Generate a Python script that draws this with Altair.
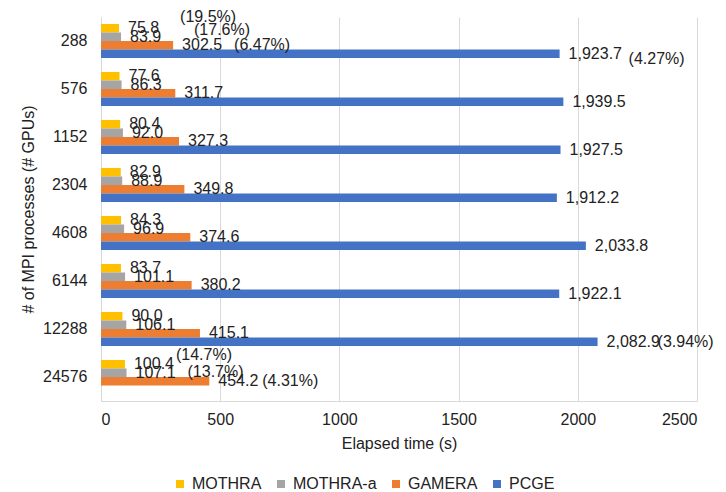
import altair as alt
import pandas as pd

categories = ["288", "576", "1152", "2304", "4608", "6144", "12288", "24576"]
series_names = ["MOTHRA", "MOTHRA-a", "GAMERA", "PCGE"]
mothra = [75.8, 77.6, 80.4, 82.9, 84.3, 83.7, 90.0, 100.4]
mothra_a = [83.9, 86.3, 92.0, 88.9, 96.9, 101.1, 106.1, 107.1]
gamera = [302.5, 311.7, 327.3, 349.8, 374.6, 380.2, 415.1, 454.2]
pcge = [1923.7, 1939.5, 1927.5, 1912.2, 2033.8, 1922.1, 2082.9, None]
colors = ["#FFC000", "#A5A5A5", "#ED7D31", "#4472C4"]

# percentage annotations: (category, series, text)
pct_cats = ["288", "288", "288", "288", "12288", "24576", "24576", "24576"]
pct_series = ["MOTHRA", "MOTHRA-a", "GAMERA", "PCGE", "PCGE", "MOTHRA", "MOTHRA-a", "GAMERA"]
pct_text = ["(19.5%)", "(17.6%)", "(6.47%)", "(4.27%)", "(3.94%)", "(14.7%)", "(13.7%)", "(4.31%)"]
# style offsets (dx, dy) for each annotation, relative to the bar end
pct_offsets = [(61, -11), (73, -7), (61, 0), (69, 5), (60, 0), (51, -9), (61, -1), (53, 0)]

rows = []
for s, vals in zip(series_names, [mothra, mothra_a, gamera, pcge]):
    for c, v in zip(categories, vals):
        if v is not None:
            rows.append({"cat": c, "series": s, "value": v})
df = pd.DataFrame(rows)

lookup = {(r["cat"], r["series"]): r["value"] for r in rows}
pct_df = pd.DataFrame({
    "cat": pct_cats,
    "series": pct_series,
    "pct": pct_text,
    "value": [lookup[(c, s)] for c, s in zip(pct_cats, pct_series)],
})

FONT = "Liberation Sans"

y_enc = alt.Y("cat:N", sort=categories,
              scale=alt.Scale(paddingInner=0.29, paddingOuter=0.145),
              axis=alt.Axis(title="# of MPI processes (# GPUs)", labelFontSize=16,
                            titleFontSize=16, titleFontWeight="normal", ticks=False,
                            labelPadding=14, titlePadding=6, domainColor="#D9D9D9",
                            labelColor="#222", titleColor="#222", labelFont=FONT,
                            titleFont=FONT))
yoff = alt.YOffset("series:N", sort=series_names, scale=alt.Scale(paddingInner=0, paddingOuter=0))
x_enc = alt.X("value:Q", scale=alt.Scale(domain=[0, 2500], nice=False),
              axis=alt.Axis(title="Elapsed time (s)", values=[0, 500, 1000, 1500, 2000, 2500],
                            labelFontSize=16, titleFontSize=16, titleFontWeight="normal",
                            ticks=False, labelPadding=10, titlePadding=8,
                            gridColor="#D9D9D9", domainColor="#D9D9D9",
                            labelColor="#222", titleColor="#222", labelFont=FONT,
                            titleFont=FONT, format="d"))

bars = alt.Chart(df).mark_bar().encode(
    y=y_enc, yOffset=yoff, x=x_enc,
    color=alt.Color("series:N", sort=series_names,
                    scale=alt.Scale(domain=series_names, range=colors),
                    legend=alt.Legend(title=None, orient="none", direction="horizontal",
                                      legendX=71, legendY=459, padding=0,
                                      symbolType="square", symbolSize=64,
                                      symbolStrokeWidth=0, labelFontSize=16,
                                      labelOffset=4, columnPadding=11,
                                      labelColor="#222", labelFont=FONT)),
)

labels = alt.Chart(df).mark_text(align="left", baseline="middle", dx=9, fontSize=16,
                                 font=FONT, color="#222").encode(
    y=alt.Y("cat:N", sort=categories), yOffset=yoff, x="value:Q",
    text=alt.Text("value:Q", format=",.1f"),
)

layers = [bars, labels]
for i, (dx, dy) in enumerate(pct_offsets):
    one = pct_df.iloc[[i]]
    layers.append(
        alt.Chart(one).mark_text(align="left", baseline="middle", dx=dx, dy=dy,
                                 fontSize=16, font=FONT, color="#222").encode(
            y=alt.Y("cat:N", sort=categories), yOffset=yoff, x="value:Q", text="pct:N")
    )

chart = alt.layer(*layers).properties(
    width=596, height=384,
    autosize=alt.AutoSizeParams(type="none"),
    padding={"left": 93, "top": 9, "right": 21, "bottom": 91},
).configure_view(stroke=None)

chart.save("out.html", embed_options={"renderer": "svg", "actions": False})
